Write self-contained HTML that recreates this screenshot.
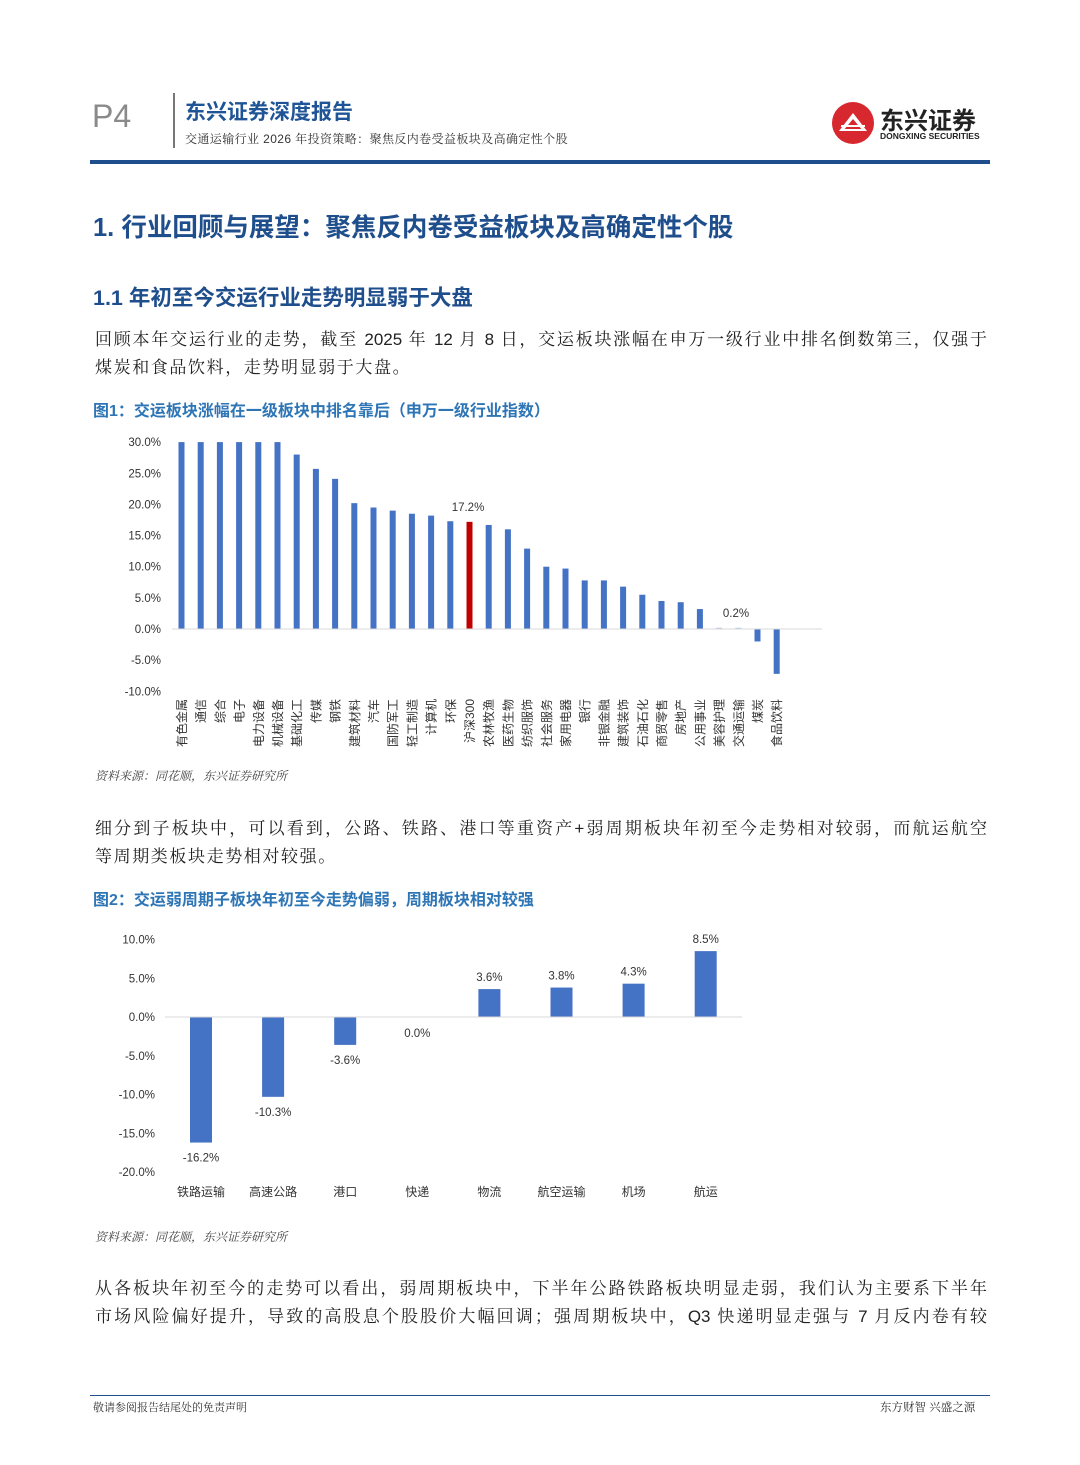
<!DOCTYPE html>
<html><head><meta charset="utf-8">
<style>
body{margin:0;background:#fff;width:1080px;height:1465px;position:relative;overflow:hidden;font-family:"Liberation Sans","Noto Sans CJK SC",sans-serif}
.a{position:absolute;white-space:nowrap}
.serif{font-family:"Liberation Sans","Noto Serif CJK SC",serif}
.jl{text-align:justify;text-align-last:justify;width:892px;left:95px}
</style></head><body>
<div class="a" style="left:92px;top:98px;font-size:32px;color:#8a8a8a;font-family:'Liberation Sans',sans-serif">P4</div>
<div class="a" style="left:173px;top:93px;width:2px;height:55px;background:#777"></div>
<div class="a" style="left:185px;top:96px;font-size:21px;font-weight:bold;color:#1f5496">东兴证券深度报告</div>
<div class="a serif" style="left:185px;top:130px;font-size:12px;color:#333;letter-spacing:0.4px">交通运输行业 2026 年投资策略：聚焦反内卷受益板块及高确定性个股</div>
<svg class="a" style="left:831px;top:101px" width="44" height="44" viewBox="0 0 44 44"><circle cx="22" cy="22" r="21" fill="#d7282f"/><path d="M8 30 L22 12 L36 30 Z" fill="#fff"/><path d="M12 30 L22 18 L32 30Z" fill="#d7282f"/><rect x="10" y="24" width="24" height="2" fill="#fff"/><rect x="10" y="28" width="24" height="2" fill="#fff"/></svg>
<div class="a" style="left:880px;top:101px;font-size:24px;font-weight:bold;color:#222">东兴证券</div>
<div class="a" style="left:880px;top:131px;font-size:8.5px;font-weight:bold;color:#222">DONGXING SECURITIES</div>
<div class="a" style="left:90px;top:160px;width:900px;height:4px;background:#1f4e8c"></div>

<div class="a" style="left:93px;top:207px;font-size:25.5px;font-weight:bold;color:#1f4e8c">1. 行业回顾与展望：聚焦反内卷受益板块及高确定性个股</div>
<div class="a" style="left:93px;top:281px;font-size:21.5px;font-weight:bold;color:#1f4e8c">1.1 年初至今交运行业走势明显弱于大盘</div>
<div class="a serif jl" style="top:325px;font-size:17px;color:#222">回顾本年交运行业的走势，截至 2025 年 12 月 8 日，交运板块涨幅在申万一级行业中排名倒数第三，仅强于</div>
<div class="a serif" style="left:95px;top:353px;font-size:17px;color:#222;letter-spacing:1.6px">煤炭和食品饮料，走势明显弱于大盘。</div>
<div class="a" style="left:93px;top:397px;font-size:16px;font-weight:bold;color:#2e75b6">图1：交运板块涨幅在一级板块中排名靠后（申万一级行业指数）</div>

<svg class="a" style="left:0;top:0" width="1080" height="1465" font-family="Liberation Sans, Noto Sans CJK SC, sans-serif">
<g id="c1"></g>
<g id="c2"></g>
</svg>

<div class="a serif" style="left:95px;top:767px;font-size:12px;font-style:italic;color:#444">资料来源：同花顺，东兴证券研究所</div>
<div class="a serif jl" style="top:814px;font-size:17px;color:#222">细分到子板块中，可以看到，公路、铁路、港口等重资产+弱周期板块年初至今走势相对较弱，而航运航空</div>
<div class="a serif" style="left:95px;top:842px;font-size:17px;color:#222;letter-spacing:1.6px">等周期类板块走势相对较强。</div>
<div class="a" style="left:93px;top:886px;font-size:16px;font-weight:bold;color:#2e75b6">图2：交运弱周期子板块年初至今走势偏弱，周期板块相对较强</div>
<div class="a serif" style="left:95px;top:1228px;font-size:12px;font-style:italic;color:#444">资料来源：同花顺，东兴证券研究所</div>
<div class="a serif jl" style="top:1274px;font-size:17px;color:#222">从各板块年初至今的走势可以看出，弱周期板块中，下半年公路铁路板块明显走弱，我们认为主要系下半年</div>
<div class="a serif jl" style="top:1302px;font-size:17px;color:#222">市场风险偏好提升，导致的高股息个股股价大幅回调；强周期板块中，Q3 快递明显走强与 7 月反内卷有较</div>
<div class="a" style="left:90px;top:1395px;width:900px;height:1px;background:#1f4e8c"></div>
<div class="a serif" style="left:93px;top:1399px;font-size:11px;color:#333">敬请参阅报告结尾处的免责声明</div>
<div class="a serif" style="left:880px;top:1399px;font-size:11.5px;color:#333">东方财智 兴盛之源</div>

<script>
var ns="http://www.w3.org/2000/svg";
function el(p,t,a,txt){var e=document.createElementNS(ns,t);for(var k in a)e.setAttribute(k,a[k]);if(txt!=null)e.textContent=txt;p.appendChild(e);return e;}
var g=document.getElementById('c1');
var n=["有色金属","通信","综合","电子","电力设备","机械设备","基础化工","传媒","钢铁","建筑材料","汽车","国防军工","轻工制造","计算机","环保","沪深300","农林牧渔","医药生物","纺织服饰","社会服务","家用电器","银行","非银金融","建筑装饰","石油石化","商贸零售","房地产","公用事业","美容护理","交通运输","煤炭","食品饮料"];
var v=[30,30,30,30,30,30,28,25.7,24.1,20.2,19.5,19,18.5,18.2,17.3,17.2,16.7,16,12.9,10,9.7,7.8,7.8,6.8,5.5,4.5,4.3,3.2,0.2,0.2,-2,-7.2];
var z=629,s=6.23;
for(var i=-2;i<=6;i++){var y=z-i*5*s;el(g,'text',{x:161,y:y+4,'text-anchor':'end','font-size':11.5,fill:'#333'},(i*5).toFixed(1)+'%');}
for(var i=0;i<32;i++){var x=181.5+i*19.2,h=v[i]*s;
el(g,'rect',{x:x-3,y:h>0?z-h:z,width:6,height:Math.max(Math.abs(h),1),fill:i==15?'#c00000':(i==28||i==29?'#b4c7e7':'#4472c4')});
el(g,'text',{transform:'translate('+(x+4.5)+',699) rotate(-90)','text-anchor':'end','font-size':12,fill:'#333'},n[i]);}
el(g,'line',{x1:172,x2:822,y1:z,y2:z,stroke:'#d9d9d9','stroke-width':1});
el(g,'text',{x:468,y:511,'text-anchor':'middle','font-size':11.5,fill:'#333'},'17.2%');
el(g,'text',{x:736,y:617,'text-anchor':'middle','font-size':11.5,fill:'#333'},'0.2%');
var g2=document.getElementById('c2');
var z2=1017,s2=7.75;
for(var i=-4;i<=2;i++){var y=z2-i*5*s2;el(g2,'text',{x:155,y:y+4,'text-anchor':'end','font-size':11.5,fill:'#333'},(i*5).toFixed(1)+'%');}
var n2=["铁路运输","高速公路","港口","快递","物流","航空运输","机场","航运"],v2=[-16.2,-10.3,-3.6,0,3.6,3.8,4.3,8.5];
for(var i=0;i<8;i++){var x=201+i*72.1,h=v2[i]*s2;
if(h!=0)el(g2,'rect',{x:x-11,y:h>0?z2-h:z2,width:22,height:Math.abs(h),fill:'#4472c4'});
var ly=h>0?z2-h-8:(h<0?z2-h+19:z2+20);
el(g2,'text',{x:x,y:ly,'text-anchor':'middle','font-size':11.5,fill:'#333'},v2[i].toFixed(1)+'%');
el(g2,'text',{x:x,y:1196,'text-anchor':'middle','font-size':12,fill:'#333'},n2[i]);}
el(g2,'line',{x1:165,x2:742,y1:z2,y2:z2,stroke:'#d9d9d9','stroke-width':1});
</script>
</body></html>
